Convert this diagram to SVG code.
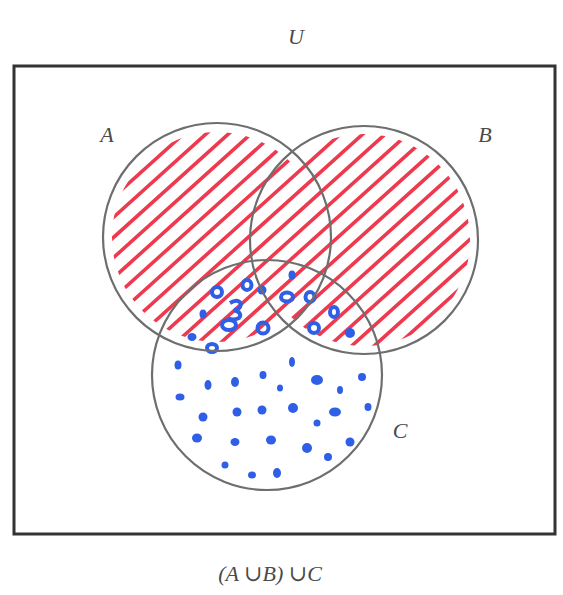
<svg xmlns="http://www.w3.org/2000/svg" width="563" height="595" viewBox="0 0 563 595">
<style>
.lbl{font-family:"Liberation Serif","DejaVu Serif",serif;font-style:italic;font-size:22px;fill:#4a4a4a}
.circ{fill:none;stroke:#6e6e6e;stroke-width:2.2}
.hatch line{stroke:#ee3a4e;stroke-width:3.6;stroke-linecap:round}
.dot{fill:#2f5fe6}
.ring{fill:none;stroke:#2f5fe6;stroke-width:4}
</style>
<defs>
<clipPath id="ab">
<circle cx="217" cy="237" r="105"/>
<circle cx="364" cy="240" r="106"/>
</clipPath>
</defs>
<rect width="563" height="595" fill="#fff"/>
<rect x="14" y="66" width="541" height="468" fill="none" stroke="#333" stroke-width="3"/>
<text class="lbl" x="296" y="44" text-anchor="middle">U</text>
<g id="hatching" class="hatch" clip-path="url(#ab)">
<g transform="rotate(-42 290 240)">
<line x1="40" y1="15" x2="540" y2="15"/>
<line x1="40" y1="30" x2="540" y2="30"/>
<line x1="40" y1="45" x2="540" y2="45"/>
<line x1="40" y1="60" x2="540" y2="60"/>
<line x1="40" y1="75" x2="540" y2="75"/>
<line x1="40" y1="90" x2="540" y2="90"/>
<line x1="40" y1="105" x2="540" y2="105"/>
<line x1="40" y1="120" x2="540" y2="120"/>
<line x1="40" y1="135" x2="540" y2="135"/>
<line x1="40" y1="150" x2="540" y2="150"/>
<line x1="40" y1="165" x2="540" y2="165"/>
<line x1="40" y1="180" x2="540" y2="180"/>
<line x1="40" y1="195" x2="540" y2="195"/>
<line x1="40" y1="210" x2="540" y2="210"/>
<line x1="40" y1="225" x2="540" y2="225"/>
<line x1="40" y1="240" x2="540" y2="240"/>
<line x1="40" y1="255" x2="540" y2="255"/>
<line x1="40" y1="270" x2="540" y2="270"/>
<line x1="40" y1="285" x2="540" y2="285"/>
<line x1="40" y1="300" x2="540" y2="300"/>
<line x1="40" y1="315" x2="540" y2="315"/>
<line x1="40" y1="330" x2="540" y2="330"/>
<line x1="40" y1="345" x2="540" y2="345"/>
<line x1="40" y1="360" x2="540" y2="360"/>
<line x1="40" y1="375" x2="540" y2="375"/>
<line x1="40" y1="390" x2="540" y2="390"/>
<line x1="40" y1="405" x2="540" y2="405"/>
<line x1="40" y1="420" x2="540" y2="420"/>
<line x1="40" y1="435" x2="540" y2="435"/>
<line x1="40" y1="450" x2="540" y2="450"/>
<line x1="40" y1="465" x2="540" y2="465"/>
</g>
</g>
<g id="dots">
<ellipse class="dot" cx="178" cy="365" rx="3.5" ry="4.5"/>
<ellipse class="dot" cx="208" cy="385" rx="3.5" ry="5"/>
<ellipse class="dot" cx="235" cy="382" rx="4" ry="5"/>
<ellipse class="dot" cx="263" cy="375" rx="3.5" ry="4"/>
<ellipse class="dot" cx="292" cy="362" rx="3" ry="5"/>
<ellipse class="dot" cx="317" cy="380" rx="6" ry="5"/>
<ellipse class="dot" cx="340" cy="390" rx="3" ry="4"/>
<ellipse class="dot" cx="362" cy="377" rx="4" ry="4"/>
<ellipse class="dot" cx="180" cy="397" rx="4.5" ry="3.5"/>
<ellipse class="dot" cx="237" cy="412" rx="4.5" ry="4.5"/>
<ellipse class="dot" cx="262" cy="410" rx="4.5" ry="4.5"/>
<ellipse class="dot" cx="280" cy="388" rx="3" ry="3.5"/>
<ellipse class="dot" cx="293" cy="408" rx="5" ry="5"/>
<ellipse class="dot" cx="335" cy="412" rx="6" ry="4.5"/>
<ellipse class="dot" cx="368" cy="407" rx="3.5" ry="4"/>
<ellipse class="dot" cx="203" cy="417" rx="4.5" ry="4.5"/>
<ellipse class="dot" cx="317" cy="423" rx="3.5" ry="3.5"/>
<ellipse class="dot" cx="197" cy="438" rx="5" ry="4.5"/>
<ellipse class="dot" cx="235" cy="442" rx="4.5" ry="4"/>
<ellipse class="dot" cx="271" cy="440" rx="5" ry="4.5"/>
<ellipse class="dot" cx="307" cy="448" rx="5" ry="5"/>
<ellipse class="dot" cx="328" cy="457" rx="4" ry="4"/>
<ellipse class="dot" cx="350" cy="442" rx="4.5" ry="4.5"/>
<ellipse class="dot" cx="225" cy="465" rx="3.5" ry="3.5"/>
<ellipse class="dot" cx="252" cy="475" rx="4" ry="3.5"/>
<ellipse class="dot" cx="277" cy="473" rx="4" ry="5"/>
<ellipse class="dot" cx="292" cy="275" rx="3.5" ry="4.5"/>
<ellipse class="dot" cx="262" cy="290" rx="4.5" ry="4.5"/>
<ellipse class="dot" cx="203" cy="314" rx="3.5" ry="4.5"/>
<ellipse class="dot" cx="350" cy="333" rx="5" ry="5"/>
<ellipse class="dot" cx="192" cy="337" rx="4.5" ry="4"/>
<ellipse class="ring" cx="217" cy="292" rx="5" ry="5"/>
<ellipse class="ring" cx="247" cy="285" rx="4.5" ry="5"/>
<ellipse class="ring" cx="287" cy="297" rx="6" ry="4.5"/>
<ellipse class="ring" cx="310" cy="297" rx="4.5" ry="5"/>
<path class="ring" d="M230 303 Q238 298 241 304 Q240 310 234 310 Q243 313 239 318 Q233 321 228 318"/>
<ellipse class="ring" cx="229" cy="325" rx="7" ry="5"/>
<ellipse class="ring" cx="263" cy="328" rx="5.5" ry="5.5"/>
<ellipse class="ring" cx="314" cy="328" rx="5" ry="5"/>
<ellipse class="ring" cx="334" cy="312" rx="4" ry="5"/>
<ellipse class="ring" cx="212" cy="348" rx="5" ry="4"/>
</g>
<g id="A"><circle class="circ" cx="217" cy="237" r="114"/><text class="lbl" x="107" y="142" text-anchor="middle">A</text></g>
<g id="B"><circle class="circ" cx="364" cy="240" r="114"/><text class="lbl" x="485" y="142" text-anchor="middle">B</text></g>
<g id="C"><circle class="circ" cx="267" cy="375" r="115"/><text class="lbl" x="400" y="438" text-anchor="middle">C</text></g>
<text class="lbl" x="270" y="581" text-anchor="middle">(A ∪B) ∪C</text>
</svg>
